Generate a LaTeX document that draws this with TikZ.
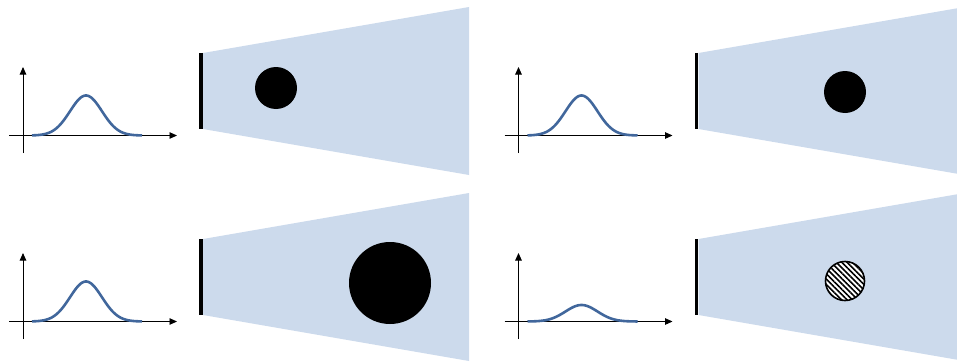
\documentclass[tikz,border=0pt]{standalone}
\usetikzlibrary{arrows.meta,patterns.meta}
\definecolor{beamblue}{HTML}{CCDAEC}
\definecolor{pulseblue}{HTML}{41679C}
\begin{document}
\begin{tikzpicture}[x=1pt,y=-1pt,
  axis/.style={line width=0.9pt,-{Triangle[length=7.5pt,width=6.5pt]}},
  pulse/.style={pulseblue,line width=2.6pt},
  detector/.style={line width=3.6pt},
  beamarea/.style={fill=beamblue},
  target/.style={fill=black},
  hatched/.style={draw=black,line width=1.6pt,preaction={fill=white},
    pattern={Lines[angle=-45,distance=3.8pt,line width=1.6pt]}},
  pics/panel/.style={code={
    \fill[beamarea] (203,53) -- (469,7) -- (469,175) -- (203,129) -- cycle;
    \draw[detector] (201,53) -- (201,129);
    \draw[axis] (23,153) -- (23,67);
    \draw[axis] (9,135.5) -- (177,135.5);
    \draw[pulse] plot[domain=32:142,samples=90] (\x,{135.5-#1*exp(-0.5*((\x-86)/16)^2)});
  }}]
\useasboundingbox (0,0) rectangle (957,361);
\clip (0,0) rectangle (957,361);
% top left
\pic at (0,0) {panel=40};
\fill[target] (276,88) circle[radius=21];
% top right
\pic at (495.5,0) {panel=40};
\fill[target] (845,92) circle[radius=21];
% bottom left
\pic at (0,186) {panel=40};
\fill[target] (390,283) circle[radius=41];
% bottom right
\pic at (495.5,186) {panel=16.5};
\path[hatched] (845,281) circle[radius=19.5];
\end{tikzpicture}
\end{document}
